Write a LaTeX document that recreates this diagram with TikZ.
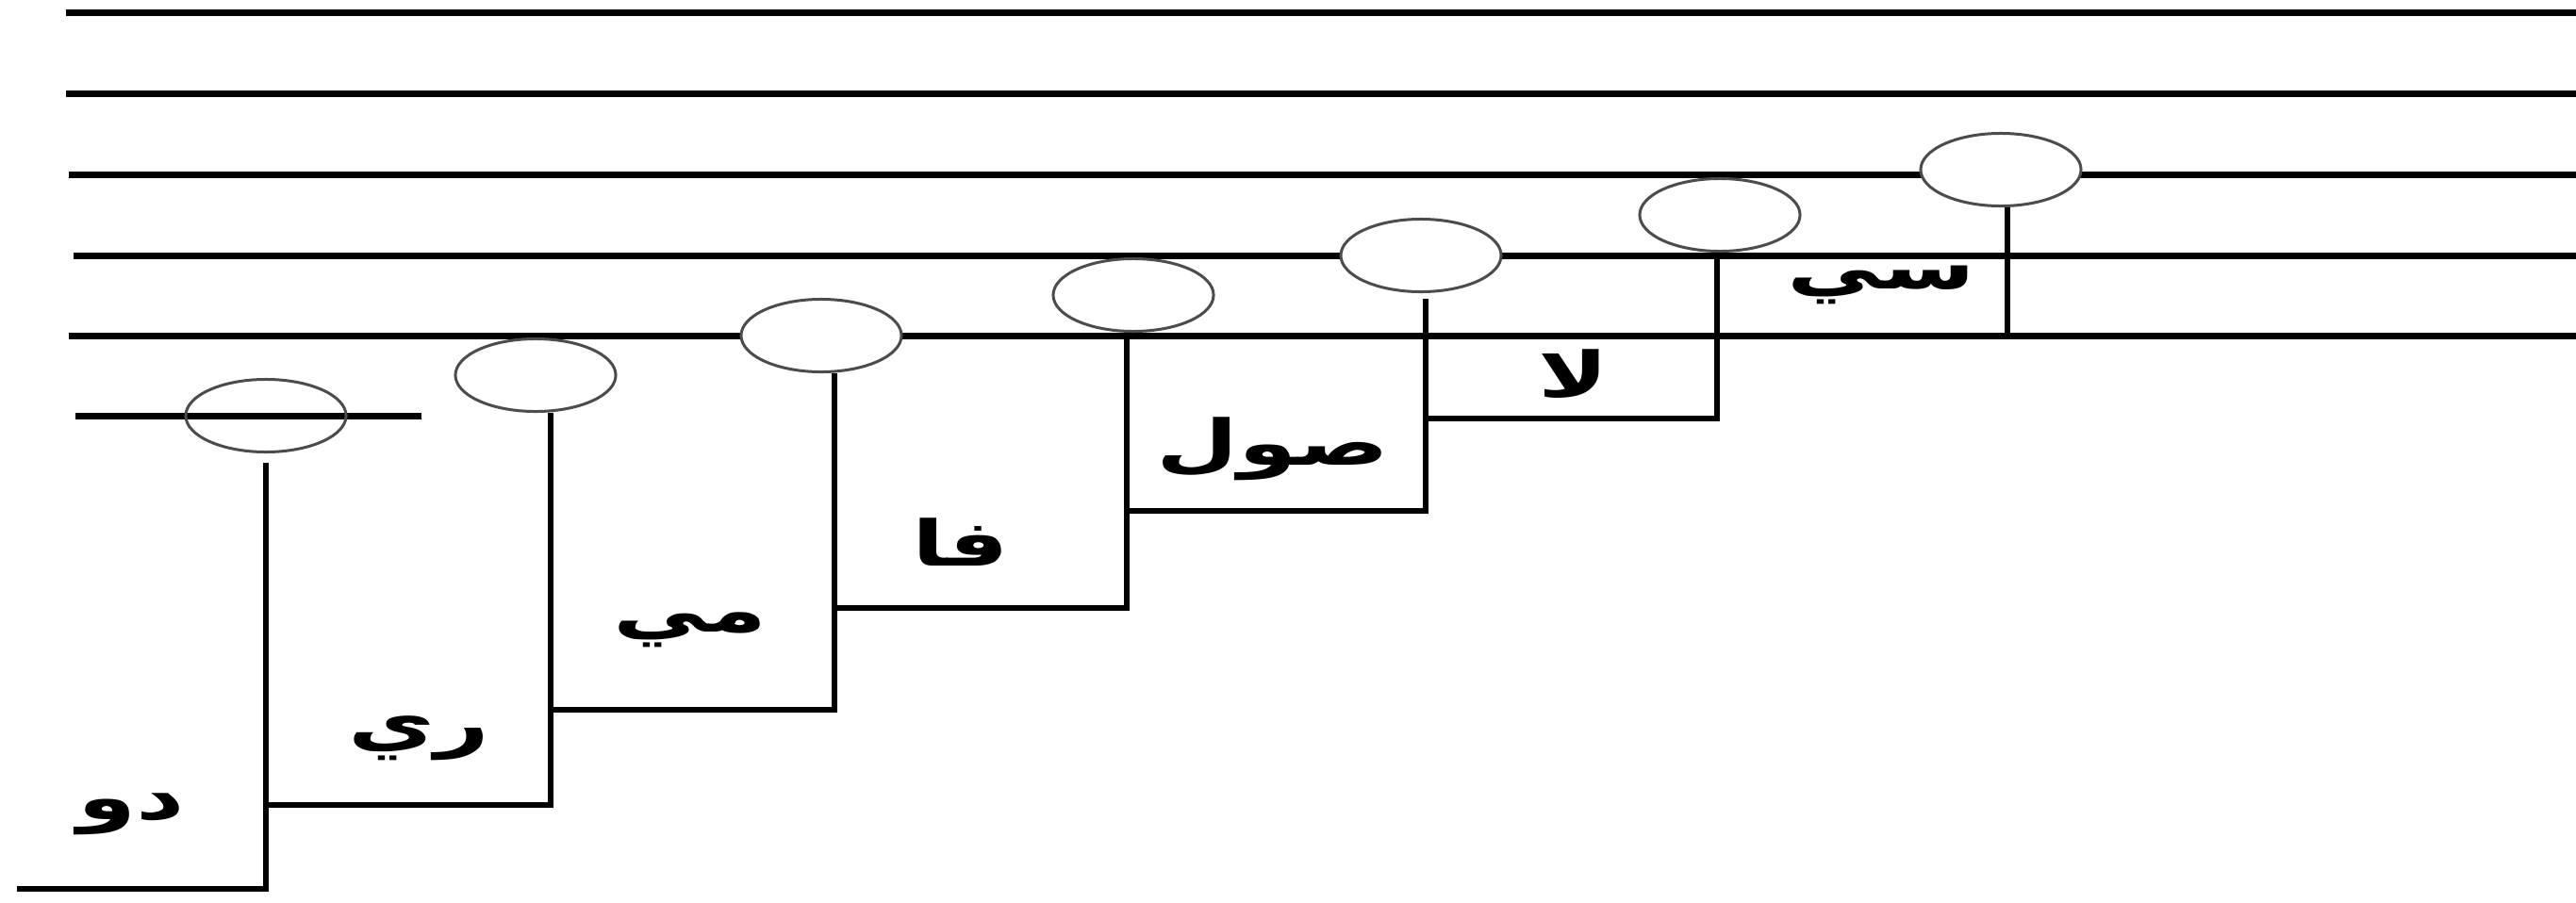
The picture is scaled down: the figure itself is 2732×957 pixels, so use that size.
\documentclass[tikz,border=0pt]{standalone}
\usepackage{fontspec}
\usetikzlibrary{shapes.geometric}
\TeXXeTstate=1
\newfontfamily\arabicfont[Script=Arabic]{DejaVu Sans}
\tikzset{
  staff/.style={line width=0.07cm, black},
  stemline/.style={line width=0.065cm, black},
  note/.style={ellipse, draw=black!70, line width=0.03cm, minimum width=1.70cm, minimum height=0.77cm, inner sep=0pt, fill=white},
  lbl/.style={font=\arabicfont\bfseries\fontsize{19}{21}\selectfont, inner sep=0pt}
}
\newcommand{\ar}[1]{\scalebox{1.5}[1]{\beginR #1\endR}}
\begin{document}
\begin{tikzpicture}[x=0.01cm,y=-0.01cm]
\useasboundingbox (0,0) rectangle (2732,957);
% staff lines
\foreach \yy/\xx in {13/70, 99/70, 185/73, 271/78, 356/73}
  \draw[staff] (\xx,\yy) -- (2732,\yy);
% ledger line
\draw[staff] (80,441) -- (447,441);
% notes
\node[note, fill=none] (do) at (282,441) {};
\node[note] (re) at (568,398) {};
\node[note] (mi) at (871,356) {};
\node[note] (fa) at (1202,313) {};
\node[note] (sol) at (1507,271) {};
\node[note] (la) at (1824,228) {};
\node[note] (si) at (2122,180) {};
% junction coordinates
\coordinate (b0) at (18,943);
\coordinate (j1) at (282,854);
\coordinate (j2) at (584,753);
\coordinate (j3) at (885,645);
\coordinate (j4) at (1195,542);
\coordinate (j5) at (1512,444);
\coordinate (j6) at (1821,356);
% stems
\draw[stemline] ([yshift=-0.1cm]do.south) |- (b0);
\draw[stemline] ([xshift=0.16cm]re.south) |- (j1);
\draw[stemline] ([xshift=0.14cm]mi.south) |- (j2);
\draw[stemline] ([xshift=-0.07cm]fa.south) |- (j3);
\draw[stemline] ([xshift=0.05cm,yshift=-0.06cm]sol.south) |- (j4);
\draw[stemline] ([xshift=-0.03cm]la.south) |- (j5);
\draw[stemline] ([xshift=0.07cm]si.south) |- (j6);
% labels
\node[lbl] (ldo) at (139,864) {\ar{دو}};
\node[lbl] (lre) at (444,783) {\ar{ري}};
\node[lbl] (lmi) at (732,668) {\ar{مي}};
\node[lbl] (lfa) at (1019,575) {\ar{فا}};
\node[lbl] (lsol) at (1350,476) {\ar{صول}};
\node[lbl] (lla) at (1669,397) {\ar{لا}};
\node[lbl] (lsi) at (1995,302) {\ar{سي}};
\end{tikzpicture}
\end{document}
